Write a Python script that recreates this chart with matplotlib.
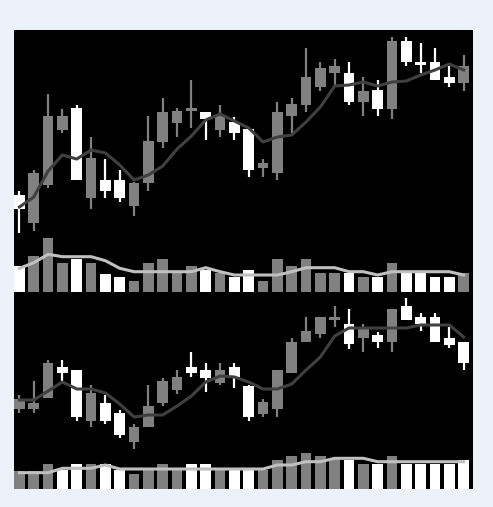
import numpy as np
import matplotlib
matplotlib.use("Agg")
import matplotlib.pyplot as plt

# Upper panel: open / high / low / close and volume (arbitrary units)
open_a = [55, 27, 65, 120, 142, 52, 70, 70, 44, 67, 108, 127, 139, 138, 120, 128,
          121, 82, 77, 134, 145, 163, 177, 177, 148, 160, 141, 209, 188, 188, 173, 167]
high_a = [59, 80, 156, 141, 145, 113, 91, 80, 68, 134, 152, 142, 170, 138, 145, 133,
          121, 91, 148, 152, 202, 188, 191, 188, 173, 170, 213, 213, 207, 202, 184, 195]
low_a = [17, 19, 62, 117, 70, 41, 52, 48, 34, 59, 102, 113, 122, 110, 113, 110,
         73, 73, 70, 117, 138, 159, 165, 145, 134, 134, 131, 184, 177, 170, 163, 159]
close_a = [41, 77, 134, 134, 70, 92, 59, 52, 67, 109, 138, 139, 142, 131, 135, 117,
           80, 87, 138, 146, 173, 182, 184, 148, 159, 141, 209, 188, 185, 170, 167, 184]
ma_a = [43, 53, 79, 95, 91, 100, 97, 85, 70, 75, 84, 101, 114, 130, 136, 129,
        122, 108, 113, 115, 128, 143, 164, 165, 168, 164, 168, 169, 175, 180, 186, 180]
vol_a = [26, 36, 54, 29, 33, 29, 18, 15, 11, 29, 33, 19, 26, 22, 19, 15,
         22, 11, 33, 26, 33, 19, 19, 19, 15, 15, 29, 19, 19, 15, 15, 19]
vol_ma_a = [23.7, 29.3, 37.7, 35.3, 35.3, 35.3, 31.3, 23.7, 20.3, 20.3, 20.3, 20.3, 20.3, 24.3, 20.3, 17,
            17, 17, 17, 20.3, 24.3, 24.3, 24.3, 20.3, 20.3, 17, 20.3, 20.3, 20.3, 20.3, 20.3, 17]

# Lower panel
open_b = [61, 61, 72, 103, 100, 49, 67, 57, 28, 43, 67, 80, 103, 100, 87, 103,
          84, 56, 61, 97, 128, 136, 150, 146, 132, 135, 128, 164, 153, 153, 132, 128]
high_b = [75, 89, 110, 110, 100, 85, 75, 60, 46, 85, 92, 100, 118, 107, 107, 107,
          85, 71, 100, 132, 153, 153, 164, 161, 146, 138, 161, 172, 157, 157, 143, 128]
low_b = [57, 57, 72, 89, 49, 43, 46, 32, 21, 43, 64, 76, 93, 78, 85, 82,
         49, 53, 53, 97, 128, 132, 143, 121, 118, 122, 118, 150, 139, 128, 122, 100]
close_b = [71, 67, 107, 97, 53, 77, 49, 35, 43, 64, 89, 93, 97, 92, 100, 93,
           53, 68, 100, 128, 139, 153, 153, 126, 142, 128, 161, 150, 146, 128, 125, 107]
ma_b = [70, 70, 79, 88, 81, 81, 77, 66, 53, 55, 55, 64, 74, 88, 94, 93,
        88, 81, 81, 86, 100, 113, 134, 142, 142, 142, 142, 142, 145, 145, 145, 133]
vol_b = [18.3, 18.3, 25, 19, 25, 25, 25, 19, 15, 19, 25, 19, 25, 25, 19, 19,
         19, 19, 29, 33, 36.3, 33, 29.7, 29, 25, 25, 33, 25, 25, 25, 25, 29]
vol_ma_b = [16.3, 16.3, 16.3, 20.7, 20.7, 20.7, 24, 20, 20, 20, 20, 20, 20, 20, 20, 20,
            20, 20, 24, 24, 27.3, 27.3, 30.7, 30.7, 30.7, 27.3, 27.3, 27.3, 27.3, 27.3, 27.3, 27.3]

UP = "#808080"
DOWN = "#ffffff"
W, H = 493, 507


def make_ax(fig, top_px, bottom_px, ylim):
    ax = fig.add_axes([14 / W, (H - bottom_px) / H, 459 / W, (bottom_px - top_px) / H])
    ax.set_facecolor("none")
    ax.set_xlim(-0.38, 31.65)
    ax.set_ylim(*ylim)
    ax.axis("off")
    return ax


def candles(ax, o, h, l, c, ma):
    x = np.arange(len(o))
    o, h, l, c = map(np.array, (o, h, l, c))
    cols = [UP if cc >= oo else DOWN for oo, cc in zip(o, c)]
    ax.vlines(x, l, h, colors=cols, lw=1.6, zorder=2)
    bottom = np.minimum(o, c)
    height = np.maximum(np.abs(c - o), 1.5)
    ax.bar(x, height, bottom=bottom, width=0.75, color=cols, zorder=3)
    ax.plot(x, ma, color="#404040", lw=2.2, zorder=4)
    return cols


def volume(ax, v, vma, cols):
    x = np.arange(len(v))
    ax.bar(x, v, width=0.75, color=cols, zorder=2)
    ax.plot(x, vma, color="#c0c0c0", lw=2.2, zorder=3)


fig = plt.figure(figsize=(W / 100, H / 100), dpi=100)
fig.patch.set_facecolor("#edf2fa")

bg = fig.add_axes([14 / W, 18 / H, 459 / W, 459 / H])
bg.set_facecolor("black")
bg.set_xticks([])
bg.set_yticks([])
for s in bg.spines.values():
    s.set_visible(False)

ax1 = make_ax(fig, 30, 250, (0, 220))
vax1 = make_ax(fig, 222, 292, (0, 70))
ax2 = make_ax(fig, 292, 470, (0, 178))
vax2 = make_ax(fig, 430, 489, (0, 59))

cols_a = candles(ax1, open_a, high_a, low_a, close_a, ma_a)
volume(vax1, vol_a, vol_ma_a, cols_a)
cols_b = candles(ax2, open_b, high_b, low_b, close_b, ma_b)
volume(vax2, vol_b, vol_ma_b, cols_b)

fig.savefig("out.png", dpi=100, facecolor=fig.get_facecolor())
